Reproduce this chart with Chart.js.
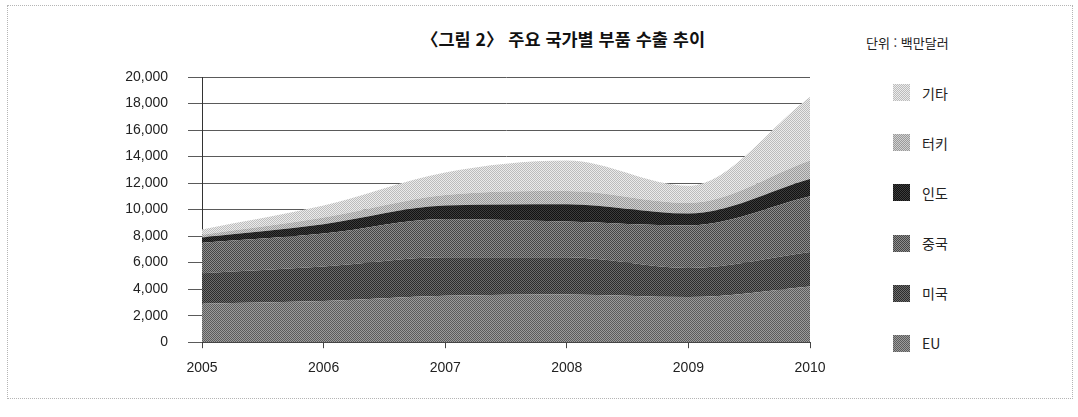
<!DOCTYPE html>
<html lang="ko">
<head>
<meta charset="utf-8">
<title>주요 국가별 부품 수출 추이</title>
<script src="https://cdn.jsdelivr.net/npm/chart.js@4.4.1/dist/chart.umd.min.js"></script>
<style>
  html, body { margin: 0; padding: 0; background: #fff; }
  body { width: 1078px; height: 417px; position: relative; overflow: hidden;
         font-family: "Liberation Sans", "Noto Sans CJK KR", sans-serif; color: #222; }
  #frame { position: absolute; left: 7px; top: 5px; width: 1064px; height: 392px; border: 1px dotted #b5b5b5; }
  #title { position: absolute; left: 0; width: 1126px; top: 26px; line-height: 22px; text-align: center;
           font: bold 17.5px "Noto Sans CJK KR", sans-serif; color: #111; }
  #unit { position: absolute; left: 866px; top: 33px; line-height: 18px; font: 13px "Noto Sans CJK KR", sans-serif; }
  #legend { position: absolute; left: 893px; top: 84px; margin: 0; padding: 0; list-style: none; }
  #legend li { display: flex; align-items: center; height: 17px; margin-bottom: 33.2px;
               font: 14px "Noto Sans CJK KR", sans-serif; }
  #legend .sw { width: 17px; height: 17px; margin-right: 12px; }
  #wrap { position: absolute; left: 0; top: 0; width: 860px; height: 417px; }
</style>
</head>
<body>
<div id="frame"></div>
<div id="title">〈그림 2〉 주요 국가별 부품 수출 추이</div>
<div id="unit">단위 : 백만달러</div>
<ul id="legend"></ul>
<div id="wrap"><canvas id="exportChart" width="860" height="417"></canvas></div>

<script>
// values (million USD), stacked bottom -> top
const years = ["2005", "2006", "2007", "2008", "2009", "2010"];
const seriesNames = ["EU", "미국", "중국", "인도", "터키", "기타"];

const euValues     = [2900, 3100, 3500, 3600, 3400, 4200];
const usValues     = [2300, 2600, 2900, 2800, 2200, 2600];
const chinaValues  = [2300, 2500, 2900, 2700, 3200, 4200];
const indiaValues  = [400, 700, 1000, 1300, 900, 1300];
const turkeyValues = [200, 500, 800, 1000, 800, 1400];
const otherValues  = [400, 900, 1700, 2300, 1300, 4800];

const yMax = 20000;
const yStep = 2000;

// two-tone halftone look of the printed figure
const tones = [
  ["#5c5c5c", "#9c9c9c"],
  ["#2c2c2c", "#6c6c6c"],
  ["#464646", "#8e8e8e"],
  ["#121212", "#3c3c3c"],
  ["#9a9a9a", "#d0d0d0"],
  ["#bcbcbc", "#ebebeb"]
];

function makeTile(c1, c2) {
  const t = document.createElement("canvas");
  t.width = 2; t.height = 2;
  const g = t.getContext("2d");
  g.fillStyle = c1; g.fillRect(0, 0, 2, 2);
  g.fillStyle = c2; g.fillRect(1, 0, 1, 1); g.fillRect(0, 1, 1, 1);
  return t;
}

const allValues = [euValues, usValues, chinaValues, indiaValues, turkeyValues, otherValues];
const canvas = document.getElementById("exportChart");
const ctx = canvas.getContext("2d");
const tiles = tones.map(([a, b]) => makeTile(a, b));

const datasets = seriesNames.map((name, i) => ({
  label: name,
  data: allValues[i],
  backgroundColor: ctx.createPattern(tiles[i], "repeat"),
  borderWidth: 0,
  pointRadius: 0,
  fill: i === 0 ? "origin" : "-1",
  cubicInterpolationMode: "monotone"
}));

// legend, top entry = top layer
const legendEl = document.getElementById("legend");
seriesNames.slice().reverse().forEach(name => {
  const i = seriesNames.indexOf(name);
  const li = document.createElement("li");
  const sw = document.createElement("span");
  sw.className = "sw";
  sw.style.backgroundImage = `url(${tiles[i].toDataURL()})`;
  li.appendChild(sw);
  li.appendChild(document.createTextNode(name));
  legendEl.appendChild(li);
});

new Chart(ctx, {
  type: "line",
  data: { labels: years, datasets },
  options: {
    responsive: false,
    animation: false,
    layout: { padding: { left: 0, right: 50, top: 77, bottom: 28 } },
    plugins: { legend: { display: false }, tooltip: { enabled: false } },
    scales: {
      x: {
        offset: false,
        grid: { display: true, drawOnChartArea: false, drawTicks: true, tickLength: 6, color: "#444" },
        border: { display: true, color: "#444" },
        ticks: { padding: 12, color: "#222", font: { family: "Liberation Sans", size: 14 } }
      },
      y: {
        stacked: true,
        min: 0,
        max: yMax,
        afterFit: s => { s.width = 202; },
        grid: { color: "#5a5a5a", lineWidth: 1, tickLength: 14 },
        border: { display: true, color: "#333", width: 1 },
        ticks: {
          stepSize: yStep,
          padding: 20,
          color: "#222",
          font: { family: "Liberation Sans", size: 14 },
          callback: v => v.toLocaleString("en-US")
        }
      }
    }
  }
});
</script>
</body>
</html>
